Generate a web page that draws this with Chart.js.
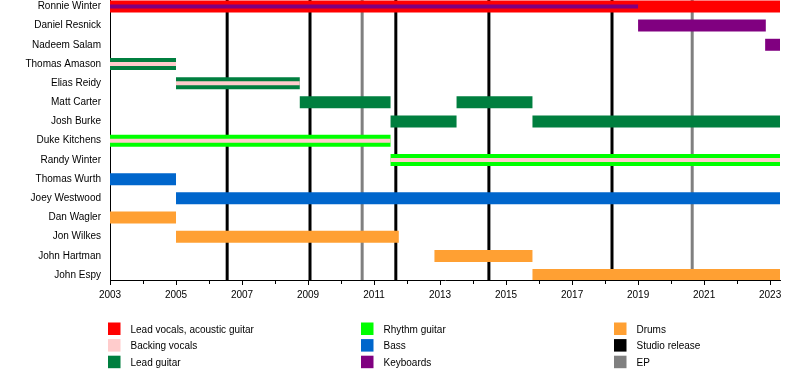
<!DOCTYPE html>
<html>
<head>
<meta charset="utf-8">
<script src="https://cdn.jsdelivr.net/npm/chart.js@4"></script>
<style>
  html, body { margin: 0; padding: 0; background: #fff; }
  canvas { display: block; }
</style>
</head>
<body>
<canvas id="c" width="800" height="380"></canvas>
<script>
// ---- Data ----
const members = ['Ronnie Winter','Daniel Resnick','Nadeem Salam','Thomas Amason','Elias Reidy','Matt Carter','Josh Burke','Duke Kitchens','Randy Winter','Thomas Wurth','Joey Westwood','Dan Wagler','Jon Wilkes','John Hartman','John Espy'];
const startYear = 2003;
const endYear = 2023.3;
// [row, start, end]
const leadVocals   = [[0, 2003, 2023.3]];
const keyboards    = [[1, 2019.0, 2022.87], [2, 2022.85, 2023.3]];
const leadGuitar   = [[3, 2003, 2005], [4, 2005, 2008.75], [5, 2008.75, 2011.5], [5, 2013.5, 2015.8], [6, 2011.5, 2013.5], [6, 2015.8, 2023.3]];
const rhythmGuitar = [[7, 2003, 2011.5], [8, 2011.5, 2023.3]];
const bass         = [[9, 2003, 2005], [10, 2005, 2023.3]];
const drums        = [[11, 2003, 2005], [12, 2005, 2011.75], [13, 2012.83, 2015.8], [14, 2015.8, 2023.3]];
// thin secondary-role stripes
const keyboardStripes = [[0, 2003, 2019.0]];
const backingStripes  = [[3, 2003, 2005], [4, 2005, 2008.75], [7, 2003, 2011.5], [8, 2011.5, 2023.3]];
// release lines
const studioReleases = [2006.55, 2009.06, 2011.66, 2014.48, 2018.21];
const eps = [2010.64, 2020.64];
// legend
const legendLabels = ['Lead vocals, acoustic guitar','Backing vocals','Lead guitar','Rhythm guitar','Bass','Keyboards','Drums','Studio release','EP'];
const legendColors = ['#FF0000','#FFCCCC','#007F3F','#00FF00','#0066CC','#800080','#FFA033','#000000','#808080'];

// ---- Build chart ----
const C = {red:'#FF0000', pink:'#FFCCCC', lead:'#007F3F', rhythm:'#00FF00', bass:'#0066CC', purple:'#800080', drums:'#FFA033', black:'#000000', grey:'#808080'};
const toPts = arr => arr.map(([r, s, e]) => ({ x: [s, e], y: r }));
function ds(label, arr, color, thick, order) {
  return { label, data: toPts(arr), backgroundColor: color, borderWidth: 0, borderSkipped: false,
           grouped: false, maxBarThickness: thick, order };
}
const datasets = [
  ds('Keyboards stripe', keyboardStripes, C.purple, 4, 0),
  ds('Backing vocals', backingStripes, C.pink, 4, 0),
  ds('Lead vocals, acoustic guitar', leadVocals, C.red, 12, 1),
  ds('Keyboards', keyboards, C.purple, 12, 1),
  ds('Lead guitar', leadGuitar, C.lead, 12, 1),
  ds('Rhythm guitar', rhythmGuitar, C.rhythm, 12, 1),
  ds('Bass', bass, C.bass, 12, 1),
  ds('Drums', drums, C.drums, 12, 1)
];

const releaseLines = {
  id: 'releaseLines',
  beforeDatasetsDraw(chart) {
    const { ctx, chartArea: a, scales: { x } } = chart;
    ctx.save();
    const draw = (v, color) => {
      const px = x.getPixelForValue(v);
      ctx.strokeStyle = color; ctx.lineWidth = 3;
      ctx.beginPath(); ctx.moveTo(px, a.top); ctx.lineTo(px, a.bottom); ctx.stroke();
    };
    eps.forEach(v => draw(v, C.grey));
    studioReleases.forEach(v => draw(v, C.black));
    ctx.restore();
  }
};

const gridLegend = {
  id: 'gridLegend',
  afterDraw(chart) {
    const ctx = chart.ctx;
    ctx.save();
    ctx.font = '10px "Liberation Sans", Arial, sans-serif';
    ctx.textBaseline = 'middle';
    ctx.textAlign = 'left';
    legendLabels.forEach((lab, i) => {
      const col = Math.floor(i / 3), row = i % 3;
      const x0 = 108 + col * 253, y0 = 322.5 + row * 16.6;
      ctx.fillStyle = legendColors[i];
      ctx.fillRect(x0, y0, 12.5, 12.5);
      ctx.fillStyle = '#000';
      ctx.fillText(lab, x0 + 22.5, y0 + 7.5);
    });
    ctx.restore();
  }
};

Chart.defaults.font.family = '"Liberation Sans", Arial, sans-serif';
Chart.defaults.font.size = 10;
Chart.defaults.color = '#000';

new Chart(document.getElementById('c'), {
  type: 'bar',
  data: { datasets },
  options: {
    indexAxis: 'y',
    responsive: false,
    animation: false,
    devicePixelRatio: 1,
    layout: { padding: { left: 0, right: 20, top: 0, bottom: 0 } },
    plugins: { legend: { display: false }, tooltip: { enabled: false } },
    scales: {
      x: {
        type: 'linear', position: 'bottom', offset: false,
        min: startYear, max: endYear,
        afterFit: s => { s.height = 100; },
        border: { display: true, color: '#000', width: 1 },
        grid: {
          display: true, offset: false, drawOnChartArea: false, drawTicks: true, tickLength: 5,
          tickColor: '#000', tickWidth: 1,
          tickBorderDash: ctx => (ctx.tick && ctx.tick.value % 2 === 1) ? [] : [3, 20]
        },
        ticks: {
          stepSize: 1, includeBounds: false, autoSkip: false, maxRotation: 0, padding: 4,
          font: { size: 10 }, color: '#000',
          callback: v => (v % 2 === 1 ? String(v) : '')
        }
      },
      y: {
        type: 'linear', position: 'left', reverse: true, offset: false,
        min: -0.33, max: 14.255,
        afterFit: s => { s.width = 110; },
        afterBuildTicks: s => { s.ticks = members.map((_, i) => ({ value: i })); },
        border: { display: true, color: '#000', width: 1 },
        grid: { display: false, offset: false, drawTicks: true, tickLength: 9 },
        ticks: {
          autoSkip: false, padding: 0, color: '#000',
          font: { size: 10, lineHeight: 0.01 },
          callback: v => members[v] ?? ''
        }
      }
    }
  },
  plugins: [releaseLines, gridLegend]
});
</script>
</body>
</html>
